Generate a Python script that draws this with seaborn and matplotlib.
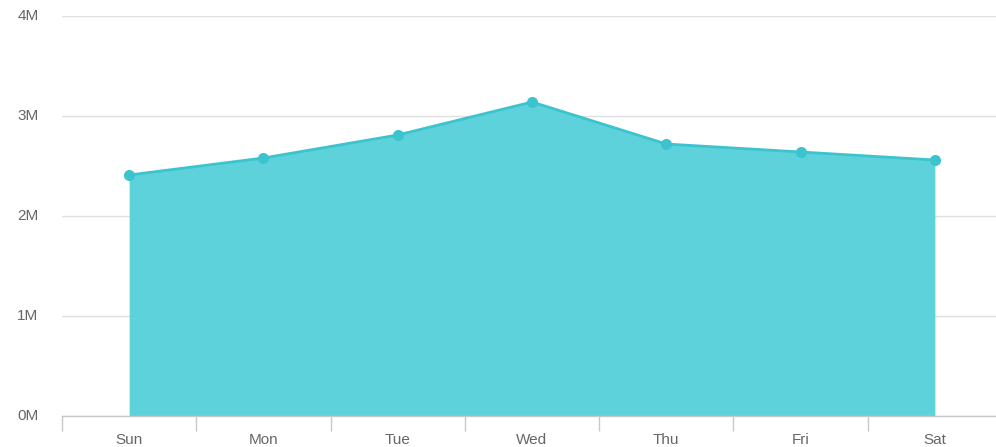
import matplotlib
matplotlib.use("Agg")
import matplotlib.pyplot as plt
import seaborn as sns
import pandas as pd
import numpy as np

days = ["Sun", "Mon", "Tue", "Wed", "Thu", "Fri", "Sat"]
visits_m = [2.41, 2.58, 2.81, 3.14, 2.72, 2.64, 2.56]
y_ticks = [0, 1, 2, 3, 4]
y_labels = ["0M", "1M", "2M", "3M", "4M"]

sns.set_theme(style="white")
plt.rcParams["font.family"] = ["Liberation Sans", "DejaVu Sans"]

df = pd.DataFrame({"day": days, "value": visits_m})
df["pos"] = np.arange(len(days))

W, H = 996, 447
fig = plt.figure(figsize=(W / 100, H / 100), dpi=100)
left, right, bottom, top = 62, 1002, 31, 431
ax = fig.add_axes([left / W, bottom / H, (right - left) / W, (top - bottom) / H])

fill_color = "#5dd2db"
line_color = "#3cc4ce"

ax.fill_between(df["pos"], df["value"], 0, color=fill_color, linewidth=0, zorder=2)
sns.lineplot(data=df, x="pos", y="value", ax=ax, color=line_color, linewidth=2,
             marker="o", markersize=8, markeredgewidth=0, zorder=3)

ax.set_xlim(-0.5, 6.5)
ax.set_ylim(0, 4)
ax.set_yticks(y_ticks)
ax.set_yticklabels(y_labels)
ax.set_xticks(np.arange(len(days)))
ax.set_xticklabels(days)
ax.set_xlabel("")
ax.set_ylabel("")

ax.grid(axis="y", color="#e0e0e0", linewidth=1, zorder=0)
ax.grid(axis="x", visible=False)
for s in ["top", "right", "left"]:
    ax.spines[s].set_visible(False)
ax.spines["bottom"].set_color("#c8c8c8")
ax.spines["bottom"].set_linewidth(1)

# category band separators below the axis
ax.set_xticks(np.arange(-0.5, 7.0, 1.0), minor=True)
ax.tick_params(axis="x", which="minor", bottom=True, length=11, width=1,
               color="#c8c8c8", direction="out")
ax.tick_params(axis="x", which="major", bottom=True, length=0, pad=12,
               labelsize=11, labelcolor="#666666")
ax.tick_params(axis="y", length=0, pad=17, labelsize=11, labelcolor="#666666")
for lab in ax.get_yticklabels():
    lab.set_verticalalignment("center")

fig.savefig("out.png", dpi=100)
